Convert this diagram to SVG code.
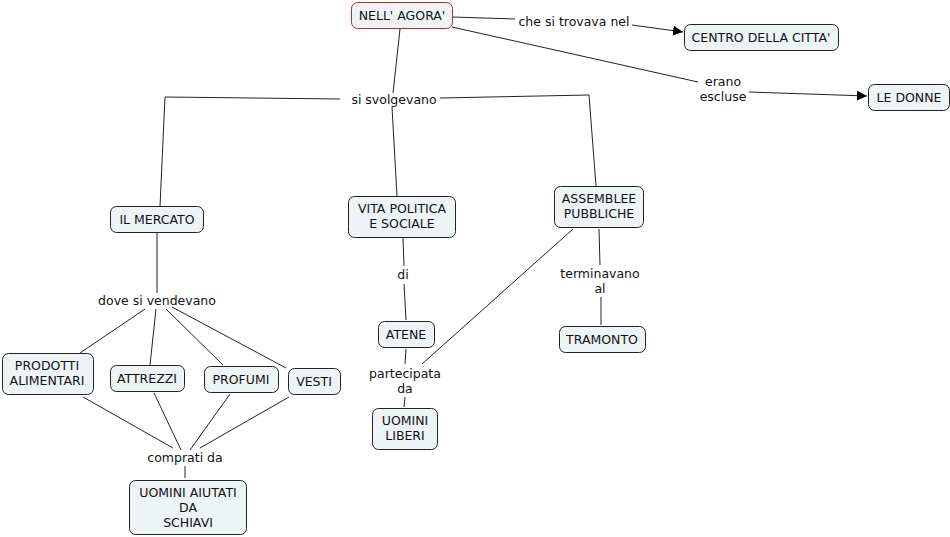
<svg xmlns="http://www.w3.org/2000/svg" width="950" height="537" viewBox="0 0 950 537">
<style>
.n rect{fill:#eef3f5;stroke:#222;stroke-width:1}
.n.r rect{stroke:#c8262e}
text{font-family:"DejaVu Sans",Verdana,sans-serif;font-size:12.5px;fill:#111;text-anchor:middle}
.c{fill:none;stroke:#222;stroke-width:1}
</style>
<defs>
<marker id="a" viewBox="0 0 10 10" refX="10" refY="5" markerWidth="10" markerHeight="10" markerUnits="userSpaceOnUse" orient="auto">
<path d="M0,0 L10,5 L0,10 z" fill="#000"/>
</marker>
</defs>
<rect width="950" height="537" fill="#fff"/>
<g id="connectors">
<path class="c" d="M452,17 L515,19"/>
<path class="c" d="M632,25 L683,32" marker-end="url(#a)"/>
<path class="c" d="M452,27 L698,82"/>
<path class="c" d="M749,92 L867,96" marker-end="url(#a)"/>
<path class="c" d="M400,29 L393,93"/>
<path class="c" d="M340,99 L165,97 L160,206"/>
<path class="c" d="M392,107 L397,196"/>
<path class="c" d="M440,98 L589,95 L596,186"/>
<path class="c" d="M157,232 L157,293"/>
<path class="c" d="M145,309 L80,353"/>
<path class="c" d="M156,309 L150,365"/>
<path class="c" d="M166,309 L223,365"/>
<path class="c" d="M172,307 L286,368"/>
<path class="c" d="M83,397 L173,448"/>
<path class="c" d="M154,393 L181,450"/>
<path class="c" d="M230,394 L190,450"/>
<path class="c" d="M289,397 L200,448"/>
<path class="c" d="M185,466 L185,478"/>
<path class="c" d="M403,238 L404,266"/>
<path class="c" d="M404,284 L406,320"/>
<path class="c" d="M406,349 L405,364"/>
<path class="c" d="M405,397 L404,407"/>
<path class="c" d="M573,229 L422,364"/>
<path class="c" d="M599,229 L600,265"/>
<path class="c" d="M601,297 L601,325"/>
</g>
<g id="lbl-trovava"><text x="574" y="26">che si trovava nel</text></g>
<g id="lbl-escluse"><text x="723" y="86">erano</text><text x="723" y="101">escluse</text></g>
<g id="lbl-svolgevano"><text x="394" y="104">si svolgevano</text></g>
<g id="lbl-vendevano"><text x="157" y="305">dove si vendevano</text></g>
<g id="lbl-di"><text x="403" y="279">di</text></g>
<g id="lbl-terminavano"><text x="600" y="278">terminavano</text><text x="600" y="293">al</text></g>
<g id="lbl-partecipata"><text x="405" y="378">partecipata</text><text x="405" y="393">da</text></g>
<g id="lbl-comprati"><text x="185" y="462">comprati da</text></g>
<g id="agora" class="n r"><rect x="351.5" y="2.5" width="101" height="26" rx="6"/><text x="402" y="20">NELL' AGORA'</text></g>
<g id="centro" class="n"><rect x="684.5" y="24.5" width="154" height="26" rx="6"/><text x="761" y="42">CENTRO DELLA CITTA'</text></g>
<g id="donne" class="n"><rect x="868.5" y="84.5" width="81" height="26" rx="6"/><text x="909" y="102">LE DONNE</text></g>
<g id="mercato" class="n"><rect x="110.5" y="206.5" width="93" height="26" rx="6"/><text x="157" y="224">IL MERCATO</text></g>
<g id="vita" class="n"><rect x="348.5" y="196.5" width="107" height="41" rx="6"/><text x="402" y="213">VITA POLITICA</text><text x="402" y="228">E SOCIALE</text></g>
<g id="assemblee" class="n"><rect x="554.5" y="186.5" width="89" height="41" rx="6"/><text x="599" y="203">ASSEMBLEE</text><text x="599" y="218">PUBBLICHE</text></g>
<g id="atene" class="n"><rect x="378.5" y="321.5" width="56" height="26" rx="6"/><text x="406" y="339">ATENE</text></g>
<g id="tramonto" class="n"><rect x="559.5" y="326.5" width="86" height="26" rx="6"/><text x="602" y="344">TRAMONTO</text></g>
<g id="liberi" class="n"><rect x="372.5" y="408.5" width="65" height="41" rx="6"/><text x="405" y="425">UOMINI</text><text x="405" y="440">LIBERI</text></g>
<g id="prodotti" class="n"><rect x="2.5" y="353.5" width="91" height="41" rx="6"/><text x="47" y="370">PRODOTTI</text><text x="47" y="385">ALIMENTARI</text></g>
<g id="attrezzi" class="n"><rect x="110.5" y="365.5" width="74" height="26" rx="6"/><text x="147" y="383">ATTREZZI</text></g>
<g id="profumi" class="n"><rect x="204.5" y="366.5" width="74" height="26" rx="6"/><text x="241" y="384">PROFUMI</text></g>
<g id="vesti" class="n"><rect x="288.5" y="368.5" width="52" height="26" rx="6"/><text x="314" y="386">VESTI</text></g>
<g id="aiutati" class="n"><rect x="129.5" y="480.5" width="117" height="54" rx="6"/><text x="188" y="497">UOMINI AIUTATI</text><text x="188" y="512">DA</text><text x="188" y="527">SCHIAVI</text></g>
</svg>
